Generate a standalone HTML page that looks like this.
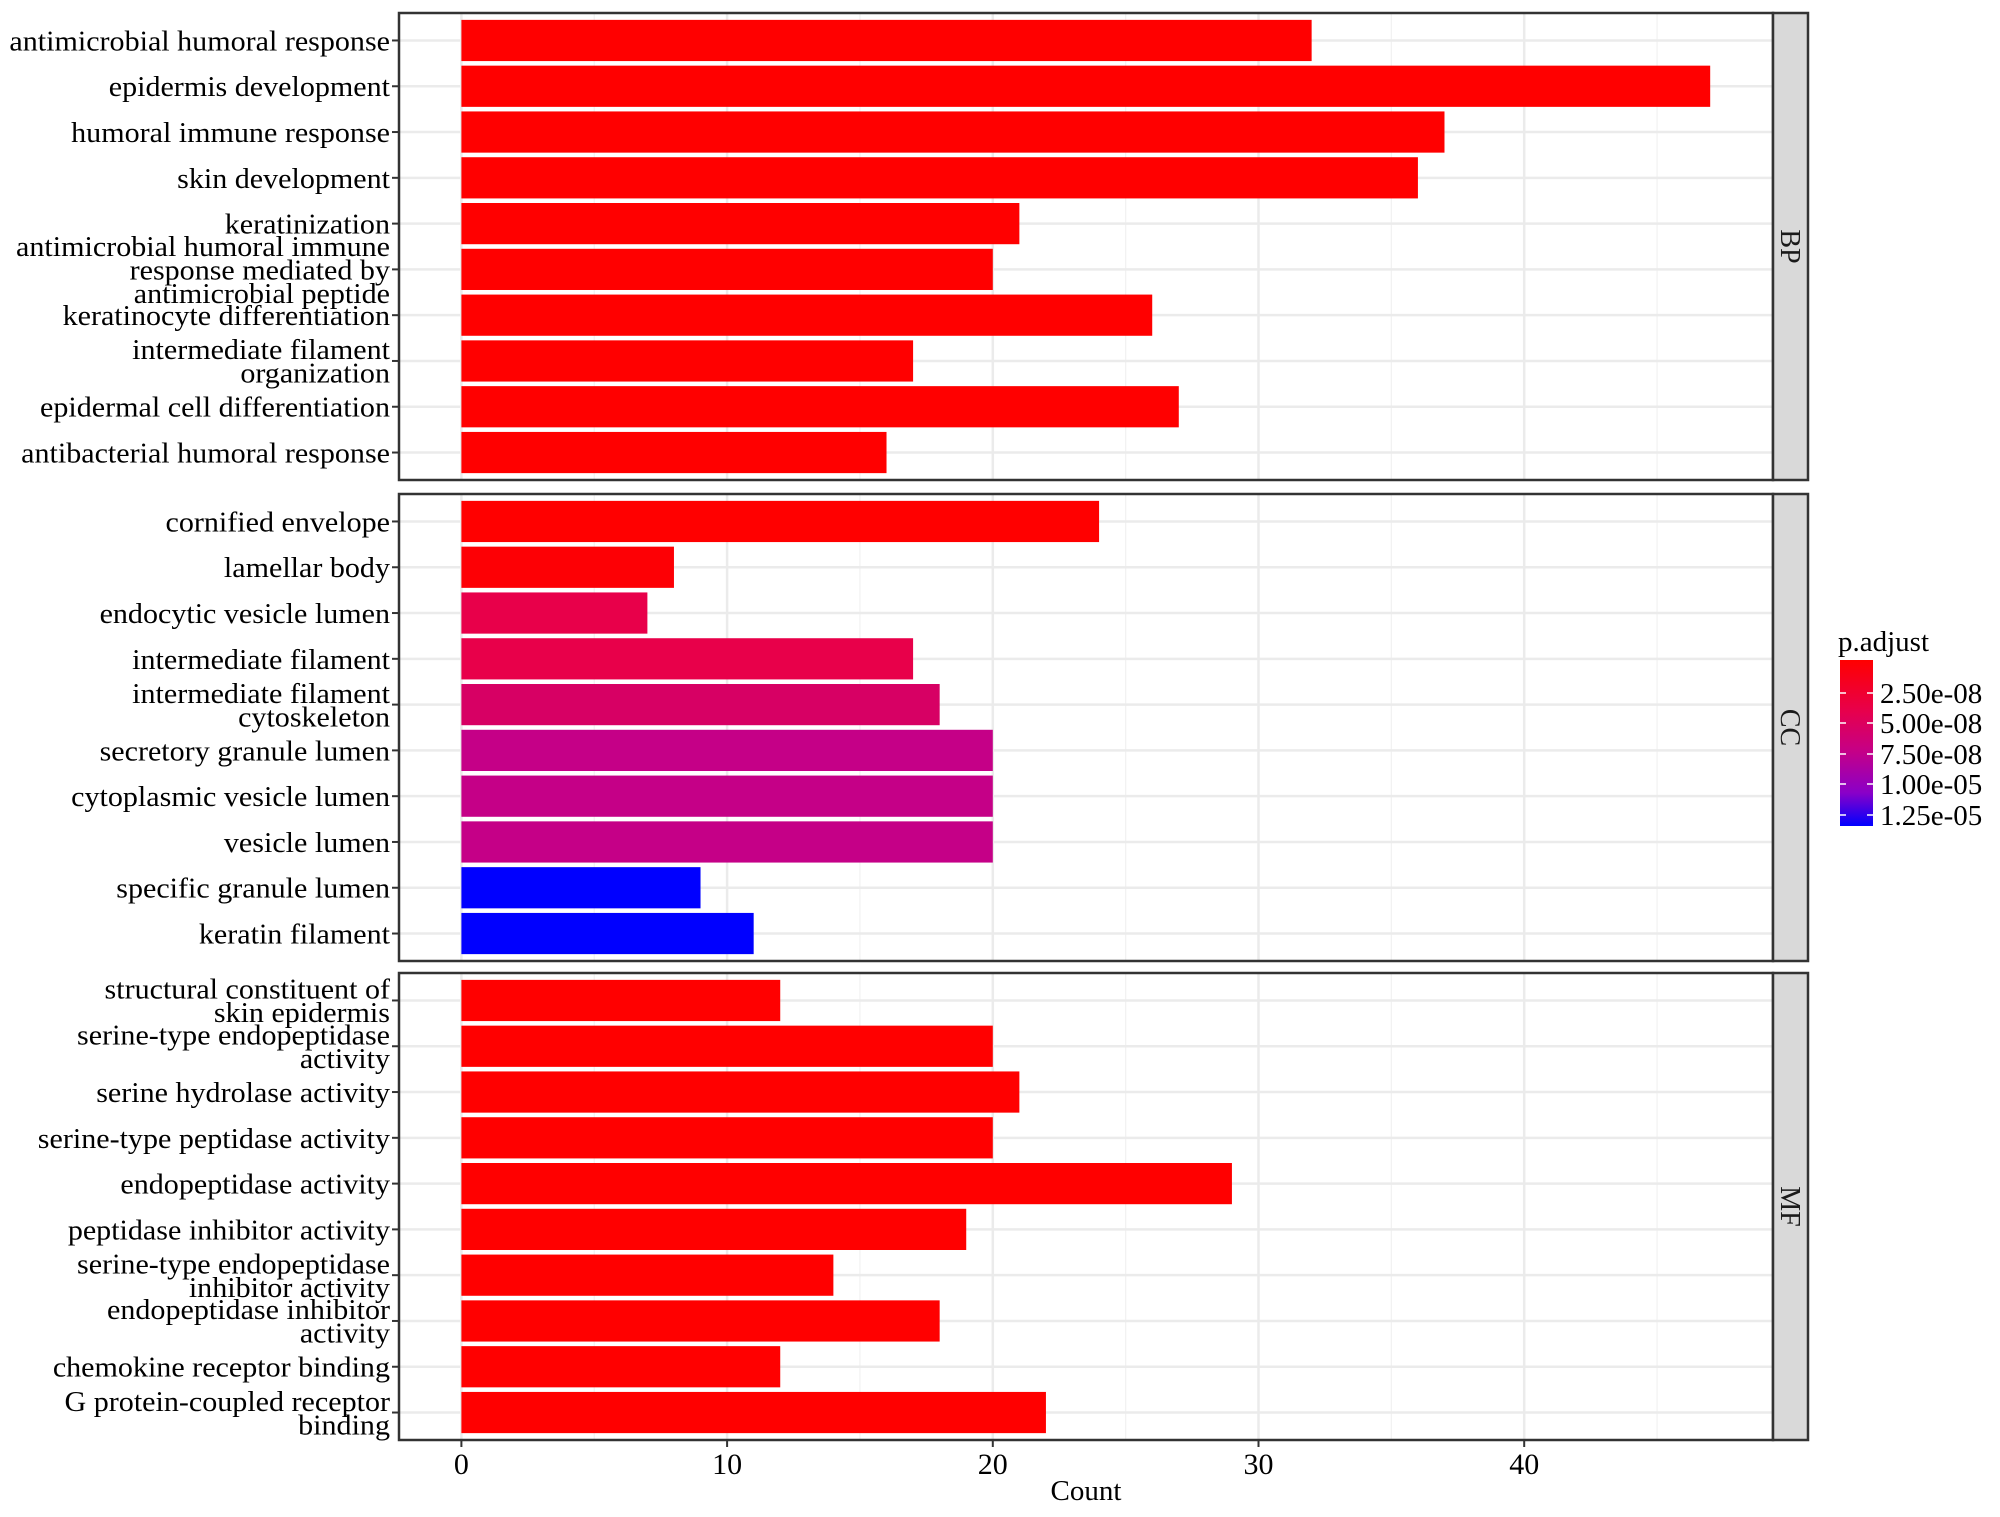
<!DOCTYPE html>
<html><head><meta charset="utf-8"><style>
html,body{margin:0;padding:0;background:#fff}
svg{display:block;font-family:"Liberation Serif","DejaVu Serif",serif}
</style></head><body>
<svg id="chart" width="2000" height="1517" viewBox="0 0 2000 1517" xmlns="http://www.w3.org/2000/svg">
<defs><linearGradient id="cbar" x1="0" y1="0" x2="0" y2="1">
<stop offset="0" stop-color="#ff0000"/><stop offset="0.3" stop-color="#e8004a"/><stop offset="0.55" stop-color="#c50087"/><stop offset="0.8" stop-color="#8a00c8"/><stop offset="1" stop-color="#0000ff"/></linearGradient></defs>
</svg>
<script>
const panelNames = ["BP","CC","MF"];
const bpTerms = ["antimicrobial humoral response","epidermis development","humoral immune response","skin development","keratinization","antimicrobial humoral immune|response mediated by|antimicrobial peptide","keratinocyte differentiation","intermediate filament|organization","epidermal cell differentiation","antibacterial humoral response"];
const bpCounts = [32,47,37,36,21,20,26,17,27,16];
const bpColorT = [0,0,0,0,0,0,0,0,0,0];
const ccTerms = ["cornified envelope","lamellar body","endocytic vesicle lumen","intermediate filament","intermediate filament|cytoskeleton","secretory granule lumen","cytoplasmic vesicle lumen","vesicle lumen","specific granule lumen","keratin filament"];
const ccCounts = [24,8,7,17,18,20,20,20,9,11];
const ccColorT = [0,0.02,0.3,0.3,0.4,0.55,0.55,0.55,1,1];
const mfTerms = ["structural constituent of|skin epidermis","serine-type endopeptidase|activity","serine hydrolase activity","serine-type peptidase activity","endopeptidase activity","peptidase inhibitor activity","serine-type endopeptidase|inhibitor activity","endopeptidase inhibitor|activity","chemokine receptor binding","G protein-coupled receptor|binding"];
const mfCounts = [12,20,21,20,29,19,14,18,12,22];
const mfColorT = [0,0,0,0,0,0,0,0,0,0];
const xTicks = [0,10,20,30,40];
const legendLabels = ["2.50e-08","5.00e-08","7.50e-08","1.00e-05","1.25e-05"];

const NS="http://www.w3.org/2000/svg";
const svg=document.getElementById('chart');
function mk(tag,attrs,parent){const e=document.createElementNS(NS,tag);for(const k in attrs)e.setAttribute(k,attrs[k]);(parent||svg).appendChild(e);return e;}
const PL=399,PR=1773,SR=1808;
const panelTops=[13,494,973],panelH=467;
const x0=461.4,xu=26.57;
const xs=v=>x0+v*xu;
const stops=[[0,[255,0,0]],[0.3,[232,0,74]],[0.4,[215,0,100]],[0.55,[197,0,135]],[0.8,[138,0,200]],[1,[0,0,255]]];
function col(t){for(let i=1;i<stops.length;i++){if(t<=stops[i][0]){const a=stops[i-1],b=stops[i];const f=(t-a[0])/(b[0]-a[0]);const c=a[1].map((v,j)=>Math.round(v+(b[1][j]-v)*f));return `rgb(${c})`;}}return 'rgb(0,0,255)';}
const panels=[[bpTerms,bpCounts,bpColorT],[ccTerms,ccCounts,ccColorT],[mfTerms,mfCounts,mfColorT]];
panels.forEach((p,pi)=>{
  const [terms,counts,ct]=p;const top=panelTops[pi];
  const band=panelH/(terms.length-1+1.2);
  const yc=i=>top+band*(0.6+i);
  const g=mk('g',{});
  
  
  mk('rect',{x:PL,y:top,width:PR-PL,height:panelH,fill:'#fff'},g);
  for(let v=5;v<=50;v+=10){const x=xs(v);if(x<PR)mk('line',{x1:x,x2:x,y1:top,y2:top+panelH,stroke:'#f2f2f2','stroke-width':1.3},g);}
  xTicks.forEach(v=>mk('line',{x1:xs(v),x2:xs(v),y1:top,y2:top+panelH,stroke:'#ebebeb','stroke-width':2.5},g));
  terms.forEach((t,i)=>mk('line',{x1:PL,x2:PR,y1:yc(i),y2:yc(i),stroke:'#ebebeb','stroke-width':2.5},g));
  terms.forEach((t,i)=>{
    const r=mk('rect',{x:x0,y:yc(i)-band*0.45,width:counts[i]*xu,height:band*0.9,fill:col(ct[i])},g);
    
    
    mk('line',{x1:PL-7,x2:PL,y1:yc(i),y2:yc(i),stroke:'#333','stroke-width':2},g);
    const lines=t.split('|');const lh=23.5;
    const tx=mk('text',{x:390,'text-anchor':'end','font-size':28.5,fill:'#000',transform:'translate(390,0) scale(1.055,1) translate(-390,0)'},g);
    
    
    lines.forEach((ln,k)=>{const ts=mk('tspan',{x:390,y:yc(i)+10+(k-(lines.length-1)/2)*lh},tx);ts.textContent=ln;});
  });
  mk('rect',{x:PL,y:top,width:PR-PL,height:panelH,fill:'none',stroke:'#333','stroke-width':2.5},g);
  const s=mk('rect',{x:PR,y:top,width:SR-PR,height:panelH,fill:'#d9d9d9',stroke:'#333','stroke-width':2.5},g);
  
  
  const st=mk('text',{x:0,y:0,'font-size':28,'text-anchor':'middle',fill:'#1a1a1a',transform:`translate(${PR+8},${top+panelH/2}) rotate(90)`},g);
  
  
  st.textContent=panelNames[pi];
});
const bottom=panelTops[2]+panelH;
xTicks.forEach(v=>{
  mk('line',{x1:xs(v),x2:xs(v),y1:bottom,y2:bottom+7,stroke:'#333','stroke-width':2});
  const t=mk('text',{x:xs(v),y:bottom+34,'text-anchor':'middle','font-size':30,fill:'#000'});
  
  
  t.textContent=v;
});
const xt=mk('text',{x:(PL+PR)/2,y:1500,'text-anchor':'middle','font-size':29,fill:'#000'});


xt.textContent='Count';
const lg=mk('g',{});


const lt=mk('text',{x:1838,y:651,'font-size':29,fill:'#000'},lg);


lt.textContent='p.adjust';
mk('rect',{x:1840,y:660,width:33,height:166,fill:'url(#cbar)'},lg);
const ly=[693,723,754,784,815];
legendLabels.forEach((l,i)=>{
  mk('line',{x1:1840,x2:1846,y1:ly[i],y2:ly[i],stroke:'#fff','stroke-width':1.5},lg);
  mk('line',{x1:1867,x2:1873,y1:ly[i],y2:ly[i],stroke:'#fff','stroke-width':1.5},lg);
  const t=mk('text',{x:1880,y:ly[i]+10,'font-size':29,fill:'#000'},lg);
  
  
  t.textContent=l;
});
</script>
</body></html>
